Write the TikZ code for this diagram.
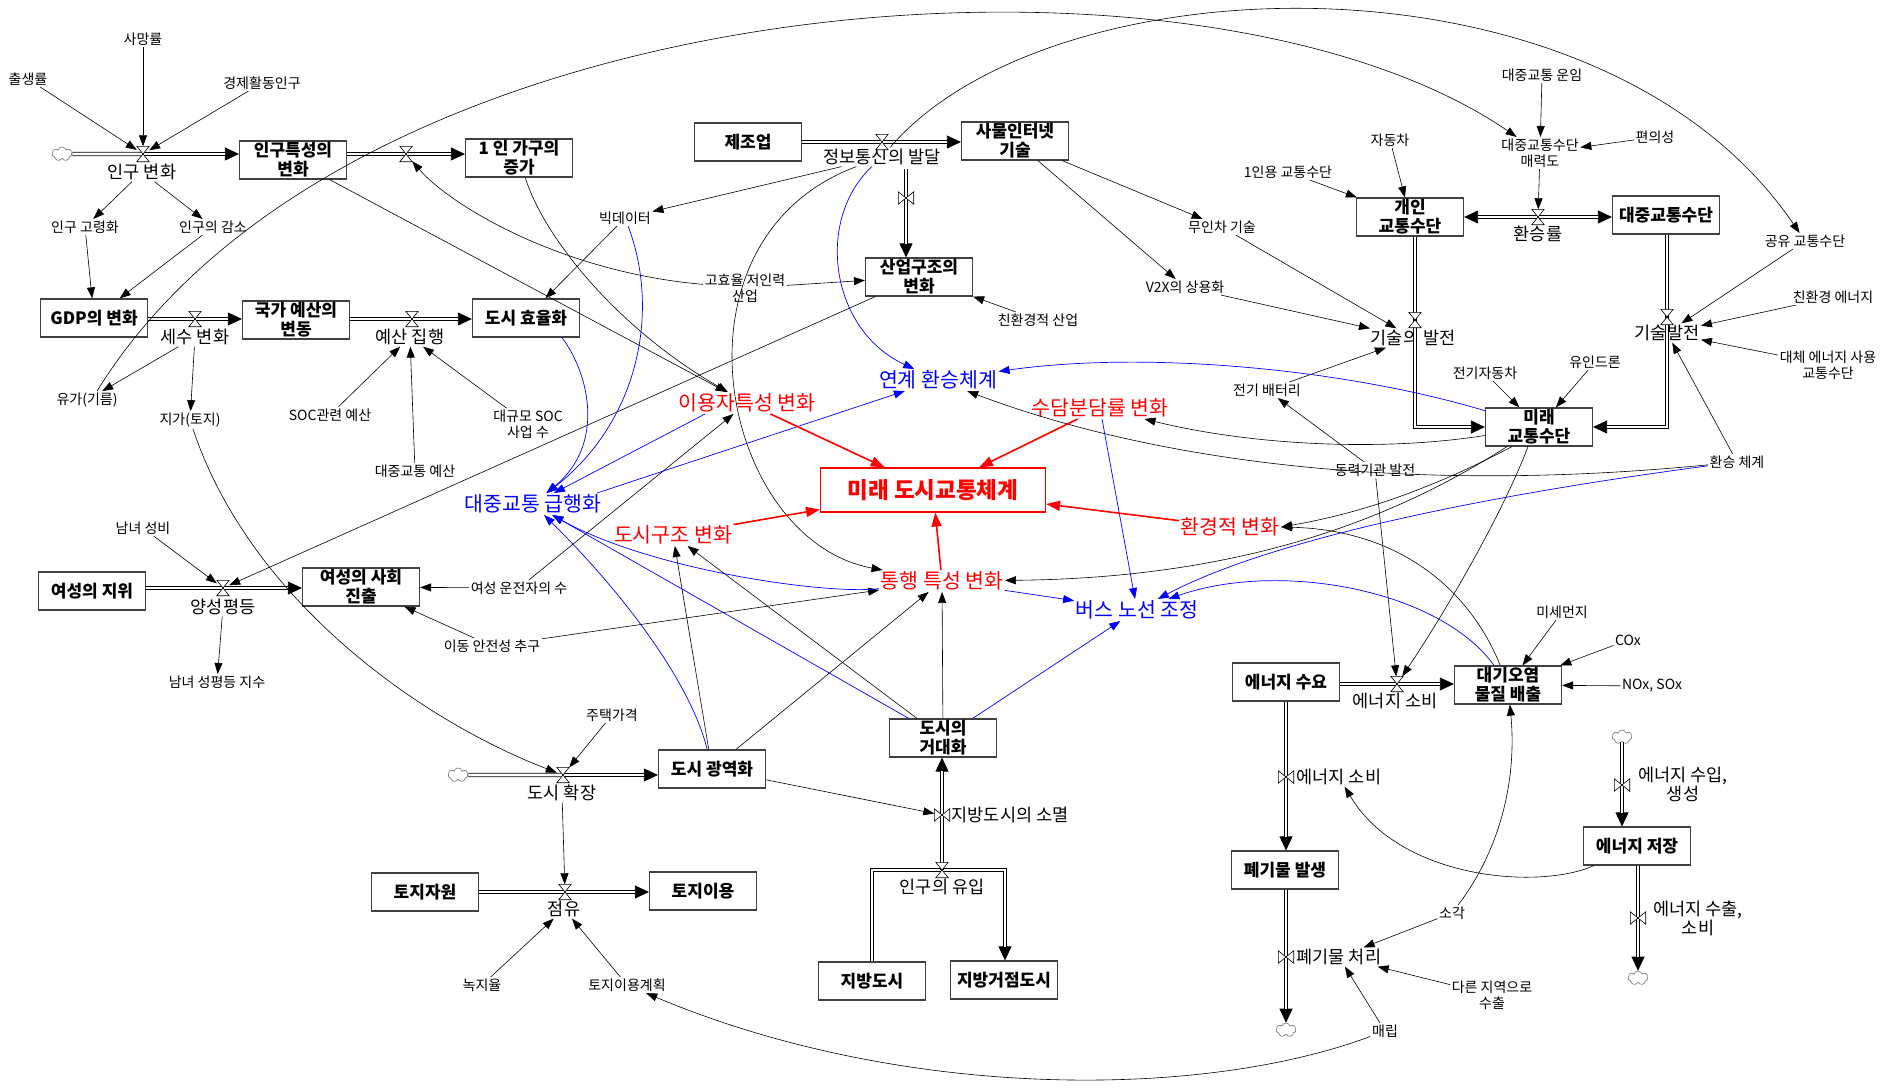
\documentclass[tikz,border=0pt]{standalone}
\usepackage{fontspec}
\setmainfont{Noto Sans CJK KR}
\usetikzlibrary{arrows.meta,shapes.symbols}
\begin{document}
\begin{tikzpicture}[x=1pt,y=-1pt,
  stock/.style={draw=black!75, line width=1.2pt, fill=white, minimum width=107pt, minimum height=38pt, inner sep=0pt, align=center, font=\fontsize{17}{19}\selectfont\bfseries},
  mainbox/.style={draw=red, line width=1.1pt, fill=white, text=red, minimum width=225pt, minimum height=44pt, inner sep=0pt, font=\fontsize{22.5}{24}\selectfont\bfseries},
  aux/.style={inner sep=1.5pt, align=center, font=\fontsize{14}{16}\selectfont},
  vlab/.style={inner sep=1.5pt, align=center, font=\fontsize{17.5}{19}\selectfont},
  redlab/.style={inner sep=1.5pt, text=red, font=\fontsize{20.5}{22}\selectfont},
  bluelab/.style={inner sep=1.5pt, text=blue, font=\fontsize{20.5}{22}\selectfont},
  info/.style={draw=black, line width=0.6pt, -{Triangle[length=11pt,width=8pt]}},
  binfo/.style={draw=blue, line width=0.7pt, -{Triangle[length=11pt,width=8pt]}},
  rinfo/.style={draw=red, line width=1.6pt, -{Triangle[length=14pt,width=10pt]}},
  flowpipe/.style={draw=black, line width=0.8pt, -{Triangle[length=14pt,width=13pt]}, postaction={draw=black, -, double=white, double distance=2.6pt, line width=0.8pt, shorten >=13.5pt}},
  flowpipe0/.style={draw=black, double=white, double distance=2.6pt, line width=0.8pt},
  vbox/.style={minimum width=12pt, minimum height=15pt, inner sep=0pt},
  sbox/.style={minimum width=15pt, minimum height=12pt, inner sep=0pt},
  vline/.style={draw=black, line width=0.6pt, fill=white},
  cloudy/.style={cloud, cloud puffs=7, aspect=1.4, draw=gray, line width=0.7pt, minimum width=20pt, minimum height=14pt, inner sep=0pt, fill=white},
]
\fill[white] (0,0) rectangle (1882,1087);
\useasboundingbox (0,0) rectangle (1882,1087);

% ---------------- stocks ----------------
\node[stock] (sInguTeuk) at (293,160) {인구특성의\\변화};
\node[stock] (s1in) at (519,158) {1 인 가구의\\증가};
\node[stock] (sGDP) at (94,318) {GDP의 변화};
\node[stock] (sBudget) at (296,320) {국가 예산의\\변동};
\node[stock] (sEff) at (526,318) {도시 효율화};
\node[stock] (sMfg) at (748,142) {제조업};
\node[stock] (sIoT) at (1015,141) {사물인터넷\\기술};
\node[stock] (sInd) at (919,277) {산업구조의\\변화};
\node[stock] (sPriv) at (1410,217) {개인\\교통수단};
\node[stock] (sPub) at (1666,215) {대중교통수단};
\node[stock] (sFut) at (1539,427) {미래\\교통수단};
\node[stock] (sWomen) at (92,591) {여성의 지위};
\node[stock, minimum width=117pt] (sWsoc) at (361,587) {여성의 사회\\진출};
\node[stock] (sMetro) at (712,769) {도시 광역화};
\node[stock] (sLand) at (425,892) {토지자원};
\node[stock] (sLandUse) at (703,891) {토지이용};
\node[stock] (sMega) at (943,738) {도시의\\거대화};
\node[stock] (sLocal) at (872,981) {지방도시};
\node[stock] (sHub) at (1004,980) {지방거점도시};
\node[stock] (sEdem) at (1286,682) {에너지 수요};
\node[stock] (sAir) at (1508,685) {대기오염\\물질 배출};
\node[stock] (sWaste) at (1285,870) {폐기물 발생};
\node[stock] (sEsto) at (1637,846) {에너지 저장};
\node[mainbox] (rMain) at (933,490) {미래 도시교통체계};

% ---------------- valves (invisible holders) ----------------
\node[vbox] (vIngu) at (143,154) {};
\node[vbox] (v1in) at (406,154) {};
\node[vbox] (vTax) at (195,319) {};
\node[vbox] (vBud) at (412,319) {};
\node[vbox] (vICT) at (882,142) {};
\node[sbox] (vInd) at (906,198) {};
\node[vbox] (vTech1) at (1415,320) {};
\node[vbox] (vTrans) at (1538,217) {};
\node[vbox] (vTech2) at (1667,317) {};
\node[vbox] (vGender) at (223,588) {};
\node[vbox] (vExp) at (563,775) {};
\node[vbox] (vOcc) at (565,892) {};
\node[sbox] (vDecl) at (942,815) {};
\node[vbox] (vInflow) at (942,870) {};
\node[vbox] (vEcons) at (1397,684) {};
\node[sbox] (vEcons2) at (1286,777) {};
\node[sbox] (vWaste) at (1286,957) {};
\node[sbox] (vEimp) at (1622,785) {};
\node[sbox] (vEexp) at (1638,918) {};
\coordinate (pInd) at (906,169);
\coordinate (jHub) at (1005,870);

% ---------------- clouds ----------------
\node[cloudy] (cIngu) at (62,154) {};
\node[cloudy] (cExp) at (458,775) {};
\node[cloudy] (cWsink) at (1286,1030) {};
\node[cloudy] (cEsrc) at (1622,737) {};
\node[cloudy] (cEsink) at (1638,978) {};

% ---------------- valve labels ----------------
\node[vlab] (lIngu) at (142,172) {인구 변화};
\node[vlab] (lTax) at (195,337) {세수 변화};
\node[vlab] (lBud) at (410,337) {예산 집행};
\node[vlab] (lICT) at (882,157) {정보통신의 발달};
\node[vlab] (lTech1) at (1413,338) {기술의 발전};
\node[vlab] (lTrans) at (1538,234) {환승률};
\node[vlab] (lTech2) at (1667,333) {기술발전};
\node[vlab] (lGender) at (223,607) {양성평등};
\node[vlab] (lExp) at (562,793) {도시 확장};
\node[vlab] (lOcc) at (564,909) {점유};
\node[vlab, anchor=west] (lDecl) at (950,815) {지방도시의 소멸};
\node[vlab] (lInflow) at (942,887) {인구의 유입};
\node[vlab] (lEcons) at (1395,701) {에너지 소비};
\node[vlab, anchor=west] (lEcons2) at (1295,777) {에너지 소비};
\node[vlab, anchor=west] (lWaste) at (1295,957) {폐기물 처리};
\node[vlab] (lEimp) at (1683,784) {에너지 수입,\\생성};
\node[vlab] (lEexp) at (1698,918) {에너지 수출,\\소비};

% ---------------- auxiliary labels ----------------
\node[aux] (tDeath) at (143,39) {사망률};
\node[aux] (tBirth) at (28,79) {출생률};
\node[aux] (tEcon) at (262,83) {경제활동인구};
\node[aux] (tAging) at (85,227) {인구 고령화};
\node[aux] (tDecr) at (213,227) {인구의 감소};
\node[aux] (tOil) at (87,400) {유가(기름)};
\node[aux] (tLandP) at (190,420) {지가(토지)};
\node[aux] (tSOC) at (330,415) {SOC관련 예산};
\node[aux] (tPTB) at (415,471) {대중교통 예산};
\node[aux] (tLSOC) at (528,424) {대규모 SOC\\사업 수};
\node[aux] (tBig) at (625,218) {빅데이터};
\node[aux] (tHiEff) at (745,288) {고효율 저인력\\산업};
\node[aux] (tEcoInd) at (1038,320) {친환경적 산업};
\node[aux] (tDrvless) at (1222,227) {무인차 기술};
\node[aux] (tV2X) at (1185,287) {V2X의 상용화};
\node[aux] (t1p) at (1288,172) {1인용 교통수단};
\node[aux] (tCar) at (1390,140) {자동차};
\node[aux] (tFare) at (1542,75) {대중교통 운임};
\node[aux] (tAttr) at (1540,153) {대중교통수단\\매력도};
\node[aux] (tConv) at (1655,137) {편의성};
\node[aux] (tShare) at (1805,241) {공유 교통수단};
\node[aux] (tEcoE) at (1833,297) {친환경 에너지};
\node[aux] (tAltE) at (1828,365) {대체 에너지 사용\\교통수단};
\node[aux] (tBatt) at (1267,390) {전기 배터리};
\node[aux] (tEV) at (1485,373) {전기자동차};
\node[aux] (tDrone) at (1595,362) {유인드론};
\node[aux] (tPower) at (1375,470) {동력기관 발전};
\node[aux] (tXfer) at (1737,462) {환승 체계};
\node[aux] (tPM) at (1562,612) {미세먼지};
\node[aux] (tCOx) at (1628,640) {COx};
\node[aux] (tNOx) at (1652,686) {NOx, SOx};
\node[aux] (tSexR) at (143,528) {남녀 성비};
\node[aux] (tGIdx) at (217,682) {남녀 성평등 지수};
\node[aux] (tFDrv) at (519,588) {여성 운전자의 수};
\node[aux] (tSafe) at (492,646) {이동 안전성 추구};
\node[aux] (tHouse) at (612,715) {주택가격};
\node[aux] (tGreen) at (482,985) {녹지율};
\node[aux] (tLPlan) at (627,985) {토지이용계획};
\node[aux] (tIncin) at (1452,913) {소각};
\node[aux] (tExport) at (1492,995) {다른 지역으로\\수출};
\node[aux] (tLandfill) at (1385,1031) {매립};

% ---------------- red / blue labels ----------------
\node[redlab] (rUser) at (747,403) {이용자특성 변화};
\node[redlab] (rModal) at (1100,408) {수담분담률 변화};
\node[redlab] (rStruct) at (673,535) {도시구조 변화};
\node[redlab] (rEnv) at (1230,527) {환경적 변화};
\node[redlab] (rTravel) at (942,581) {통행 특성 변화};
\node[bluelab] (bLink) at (938,380) {연계 환승체계};
\node[bluelab] (bExpr) at (533,504) {대중교통 급행화};
\node[bluelab] (bBus) at (1137,610) {버스 노선 조정};

% ---------------- pipes ----------------
\draw[flowpipe0] (cIngu.east) -- (vIngu.center);
\draw[flowpipe] (vIngu.center) -- (vIngu.center -| sInguTeuk.west);
\draw[flowpipe0] (sInguTeuk.east |- v1in.center) -- (v1in.center);
\draw[flowpipe] (v1in.center) -- (v1in.center -| s1in.west);
\draw[flowpipe0] (sGDP.east |- vTax.center) -- (vTax.center);
\draw[flowpipe] (vTax.center) -- (vTax.center -| sBudget.west);
\draw[flowpipe0] (sBudget.east |- vBud.center) -- (vBud.center);
\draw[flowpipe] (vBud.center) -- (vBud.center -| sEff.west);
\draw[flowpipe0] (sMfg.east |- vICT.center) -- (vICT.center);
\draw[flowpipe] (vICT.center) -- (vICT.center -| sIoT.west);
\draw[flowpipe] (pInd) -- (pInd |- sInd.north);
\draw[flowpipe] (vTrans.center) -- (vTrans.center -| sPriv.east);
\draw[flowpipe] (vTrans.center) -- (vTrans.center -| sPub.west);
\draw[flowpipe0] (vTech1.center |- sPriv.south) -- (vTech1.center);
\draw[flowpipe] (vTech1.center) |- (sFut.west);
\draw[flowpipe0] (vTech2.center |- sPub.south) -- (vTech2.center);
\draw[flowpipe] (vTech2.center) |- (sFut.east);
\draw[flowpipe0] (sWomen.east |- vGender.center) -- (vGender.center);
\draw[flowpipe] (vGender.center) -- (vGender.center -| sWsoc.west);
\draw[flowpipe0] (cExp.east) -- (vExp.center);
\draw[flowpipe] (vExp.center) -- (vExp.center -| sMetro.west);
\draw[flowpipe0] (sLand.east |- vOcc.center) -- (vOcc.center);
\draw[flowpipe] (vOcc.center) -- (vOcc.center -| sLandUse.west);
\draw[flowpipe] (sLocal.north) |- (jHub) -- (jHub |- sHub.north);
\draw[flowpipe] (vInflow.center) -- (vInflow.center |- sMega.south);
\draw[flowpipe0] (sEdem.east |- vEcons.center) -- (vEcons.center);
\draw[flowpipe] (vEcons.center) -- (vEcons.center -| sAir.west);
\draw[flowpipe] (vEcons2.center |- sEdem.south) -- (vEcons2.center |- sWaste.north);
\draw[flowpipe] (vWaste.center |- sWaste.south) -- (cWsink.north);
\draw[flowpipe] (cEsrc.south) -- (cEsrc.south |- sEsto.north);
\draw[flowpipe] (vEexp.center |- sEsto.south) -- (cEsink.north);

% ---------------- valve symbols ----------------
\foreach \v in {vIngu,v1in,vTax,vBud,vICT,vTech1,vTrans,vTech2,vGender,vExp,vOcc,vInflow,vEcons}
  \draw[vline] (\v.north west) -- (\v.north east) -- (\v.south west) -- (\v.south east) -- cycle;
\foreach \v in {vInd,vDecl,vEcons2,vWaste,vEimp,vEexp}
  \draw[vline] (\v.north west) -- (\v.south west) -- (\v.north east) -- (\v.south east) -- cycle;

% ---------------- black information links ----------------
\draw[info] (tBirth) -- (vIngu);
\draw[info] (tDeath) -- (vIngu);
\draw[info] (tEcon) -- (vIngu);
\draw[info] (lIngu) -- (tAging);
\draw[info] (lIngu) -- (tDecr);
\draw[info] (tAging) -- (sGDP);
\draw[info] (tDecr) -- (sGDP);
\draw[info] (lTax) -- (tOil);
\draw[info] (lTax) -- (tLandP);
\draw[info] (tSOC) -- (lBud);
\draw[info] (tPTB) -- (lBud);
\draw[info] (tLSOC) -- (lBud);
\draw[info] ([xshift=10pt]tOil.north) .. controls (350,-20) and (1200,-80) .. (tAttr);
\draw[info] (lICT) .. controls (1050,-40) and (1600,-60) .. (tShare);
\draw[info] (tHiEff) .. controls (560,272) and (450,205) .. (v1in);
\draw[info] (sInguTeuk) -- (rUser);
\draw[info] (s1in) .. controls (545,240) and (620,330) .. (rUser);
\draw[info] (tLandP) .. controls (250,600) and (420,720) .. (vExp);
\draw[info] (tBig) -- (sEff);
\draw[info] (lICT) -- (tBig);
\draw[info] (tHiEff) -- (sInd);
\draw[info] (tEcoInd) -- (sInd);
\draw[info] (sInd) -- (vGender);
\draw[info] (lICT) .. controls (660,240) and (720,540) .. (rTravel);
\draw[info] (sIoT) -- (tDrvless);
\draw[info] (sIoT) -- (tV2X);
\draw[info] (tDrvless) -- (lTech1);
\draw[info] (tV2X) -- (lTech1);
\draw[info] (tBatt) -- (lTech1);
\draw[info] (tPower) -- (tBatt);
\draw[info] (tPower) -- (vEcons);
\draw[info] (t1p) -- (sPriv);
\draw[info] (tCar) -- (sPriv);
\draw[info] (tFare) -- (tAttr);
\draw[info] (tConv) -- (tAttr);
\draw[info] (tAttr) -- (vTrans);
\draw[info] (tShare) -- (lTech2);
\draw[info] (tEcoE) -- (lTech2);
\draw[info] (tAltE) -- (lTech2);
\draw[info] (tXfer) -- (lTech2);
\draw[info] (tEV) -- (sFut);
\draw[info] (tDrone) -- (sFut);
\draw[info] (sFut) .. controls (1380,452) and (1250,445) .. (rModal);
\draw[info] ([xshift=-27pt]sFut.south) .. controls (1420,495) and (1350,515) .. (rEnv.east);
\draw[info] ([xshift=-32pt]sFut.south) .. controls (1400,515) and (1250,578) .. (rTravel);
\draw[info] ([xshift=-11pt]sFut.south) .. controls (1500,520) and (1440,620) .. (vEcons);
\draw[info] (tXfer) .. controls (1400,495) and (1150,460) .. (bLink);
\draw[info] (sAir) .. controls (1470,590) and (1400,530) .. (rEnv.east);
\draw[info] (tPM) -- (sAir);
\draw[info] (tCOx) -- (sAir);
\draw[info] (tNOx) -- (sAir);
\draw[info] (tIncin) .. controls (1500,850) and (1517,780) .. (sAir);
\draw[info] (tIncin) -- (lWaste);
\draw[info] (tExport) -- (lWaste);
\draw[info] (tLandfill) -- (lWaste);
\draw[info] (tLandfill) .. controls (1200,1100) and (900,1100) .. (tLPlan);
\draw[info] (sEsto) .. controls (1540,890) and (1400,880) .. (lEcons2);
\draw[info] (tGreen) -- (lOcc);
\draw[info] (tLPlan) -- (lOcc);
\draw[info] (lExp) -- (vOcc);
\draw[info] (tHouse) -- (vExp);
\draw[info] (tSexR) -- (vGender);
\draw[info] (lGender) -- (tGIdx);
\draw[info] (tFDrv) -- (sWsoc);
\draw[info] (tFDrv) -- (rUser);
\draw[info] (tSafe) -- (sWsoc);
\draw[info] (tSafe) -- (rTravel);
\draw[info] (sMetro) -- (rStruct);
\draw[info] (sMega) -- (rStruct);
\draw[info] (sMetro) -- (rTravel);
\draw[info] (sMega) -- (rTravel);
\draw[info] (sMetro) -- (vDecl);

% ---------------- blue links ----------------
\draw[binfo] (lICT) .. controls (815,220) and (830,330) .. (bLink);
\draw[binfo] (sFut) .. controls (1350,370) and (1150,350) .. (bLink);
\draw[binfo] (tXfer) .. controls (1450,500) and (1260,545) .. (bBus);
\draw[binfo] (sAir) .. controls (1440,590) and (1280,560) .. (bBus);
\draw[binfo] (sMetro) .. controls (690,680) and (620,590) .. (bExpr);
\draw[binfo] (sMega) -- (bExpr);
\draw[binfo] (sMega) -- (bBus);
\draw[binfo] (rTravel) .. controls (827,595) and (650,570) .. (bExpr);
\draw[binfo] (rTravel) -- (bBus);
\draw[binfo] (rModal) -- (bBus);
\draw[binfo] ([xshift=-42pt]rUser.south) -- (bExpr);
\draw[binfo] ([xshift=36pt]sEff.south) .. controls (590,375) and (605,445) .. (bExpr);
\draw[binfo] (tBig) .. controls (660,310) and (640,420) .. (bExpr);
\draw[binfo] ([xshift=64pt]bExpr.north) -- (bLink);

% ---------------- red links ----------------
\draw[rinfo] (rUser) -- (rMain);
\draw[rinfo] (rModal) -- (rMain);
\draw[rinfo] (rStruct) -- (rMain);
\draw[rinfo] (rEnv) -- (rMain);
\draw[rinfo] (rTravel) -- (rMain);
\end{tikzpicture}
\end{document}
